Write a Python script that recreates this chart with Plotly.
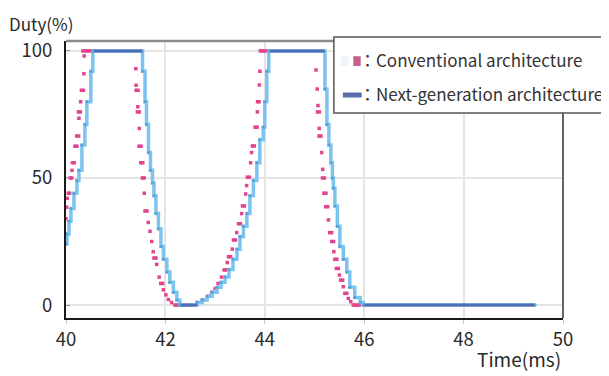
import plotly.graph_objects as go

# ---------------- data ----------------
x_ticks = [40, 42, 44, 46, 48, 50]
y_ticks = [0, 50, 100]

# Next-generation architecture (step line: time of change, new duty value)
blue_t = [40.00, 40.02, 40.06, 40.10, 40.16, 40.22, 40.26, 40.32, 40.38, 40.42, 40.50, 40.54,
          41.54, 41.59, 41.62, 41.66, 41.70, 41.74, 41.77, 41.81, 41.86, 41.91, 41.96, 42.03,
          42.09, 42.16, 42.23, 42.29,
          42.64, 42.74, 42.84, 42.94, 43.04, 43.12, 43.20, 43.28, 43.36, 43.44, 43.50, 43.57,
          43.64, 43.70, 43.77, 43.84, 43.90, 43.97, 44.00, 44.04, 44.08,
          45.21, 45.25, 45.29, 45.33, 45.36, 45.38, 45.41, 45.46, 45.51, 45.58, 45.65, 45.71,
          45.81, 45.92, 45.98, 49.44]
blue_v = [24, 28, 33, 38, 44, 49, 53, 63, 71, 80, 92, 100,
          92, 80, 71, 60, 53, 48, 43, 36, 30, 23, 18, 13,
          9, 5, 2, 0,
          1, 2, 3.5, 5, 7, 9, 11, 14, 18, 22, 27, 31,
          36, 43, 49, 56, 65, 70, 80, 92, 100,
          85, 71, 63, 56, 50, 46, 39, 31, 23, 18, 13, 7,
          3, 1, 0, 0]

# Conventional architecture (sampled points)
pink_t = [40.00, 40.015, 40.025, 40.045, 40.075, 40.085, 40.115, 40.12, 40.13, 40.165,
          40.18, 40.22, 40.215, 40.255, 40.26, 40.25, 40.29, 40.295, 40.31, 40.35,
          40.36, 40.365, 40.34, 40.38, 40.42, 40.46, 40.50,
          41.405, 41.41, 41.41, 41.45, 41.445, 41.435, 41.475, 41.475, 41.47, 41.51,
          41.505, 41.545, 41.535, 41.575, 41.575, 41.59, 41.63, 41.655, 41.69, 41.725,
          41.755, 41.77, 41.81, 41.825, 41.875, 41.905, 41.945, 41.96, 42.01, 42.06,
          42.125, 42.19, 42.23, 42.27, 42.32, 42.40, 42.48,
          42.64, 42.74, 42.78, 42.86, 42.93, 43.00, 43.06, 43.13, 43.18, 43.22,
          43.245, 43.27, 43.31, 43.345, 43.37, 43.41, 43.435, 43.47, 43.51, 43.535,
          43.55, 43.59, 43.615, 43.635, 43.65, 43.69, 43.715, 43.735, 43.75, 43.79,
          43.805, 43.845, 43.85, 43.855, 43.885, 43.89, 43.90, 43.91, 43.95, 43.99, 44.03,
          45.03, 45.055, 45.07, 45.06, 45.10, 45.095, 45.09, 45.13, 45.145, 45.165,
          45.16, 45.20, 45.19, 45.23, 45.225, 45.265, 45.28, 45.305, 45.345, 45.345,
          45.385, 45.39, 45.41, 45.45, 45.44, 45.48, 45.50, 45.525, 45.565, 45.58,
          45.61, 45.65, 45.68, 45.73, 45.78, 45.82, 45.86, 45.90]
pink_v = [34, 38.5, 42, 44, 44, 50, 50, 53, 56, 56,
          62.5, 62.5, 66.5, 66.5, 73.5, 76, 76, 80, 84.5, 84.5,
          91, 98, 100, 100, 100, 100, 100,
          93, 86.5, 84.5, 84.5, 78, 76, 76, 69.5, 62.5, 62.5,
          56, 56, 50, 50, 44, 37, 37, 32.5, 29, 25,
          21, 18.5, 18.5, 16, 11, 8.5, 8.5, 6, 4, 2.2,
          1, 0, 0, 0, 0, 0, 0,
          1, 2, 2, 3.5, 5, 6.5, 8.5, 11, 13.8, 13.8,
          16.7, 19, 19, 22, 25.6, 25.6, 28.5, 32, 32, 36,
          39, 39, 43.7, 47, 50.3, 50.3, 56, 60, 62.6, 62.6,
          70, 70, 76, 80, 80, 86.6, 92, 100, 100, 100, 100,
          92.5, 85, 78.5, 76, 76, 69.5, 66.5, 66.5, 60, 53.4,
          50, 50, 44, 44, 38.7, 38.7, 33.5, 28.5, 28.5, 25,
          25, 21, 18, 18, 14.4, 14.4, 11.8, 9.8, 9.8, 7.2,
          4.6, 4.6, 2.6, 1.3, 0, 0, 0, 0]

legend_names = ["Conventional architecture", "Next-generation architecture"]

# ---------------- styles ----------------
PINK = "#e2458f"
LIGHT_BLUE = "#7cc4ee"
DARK_BLUE = "#4f6db5"
FONT = "Noto Sans CJK JP"
TXT = "#2a2a2a"

fig = go.Figure()

fig.add_trace(go.Scatter(
    x=pink_t, y=pink_v, mode="markers",
    marker=dict(symbol="square", size=3.5, color=PINK, line=dict(width=0)),
    hoverinfo="skip", showlegend=False))

fig.add_trace(go.Scatter(
    x=blue_t, y=blue_v, mode="lines",
    line=dict(shape="hv", color=LIGHT_BLUE, width=3.5),
    hoverinfo="skip", showlegend=False))

# flat (saturated) portions drawn darker
flat_x, flat_y = [], []
for i in range(len(blue_t) - 1):
    if blue_v[i] in (0, 100) and blue_t[i + 1] - blue_t[i] > 0.2:
        flat_x += [blue_t[i], blue_t[i + 1], None]
        flat_y += [blue_v[i], blue_v[i], None]
fig.add_trace(go.Scatter(
    x=flat_x, y=flat_y, mode="lines",
    line=dict(color=DARK_BLUE, width=3),
    hoverinfo="skip", showlegend=False))

fig.add_trace(go.Scatter(
    x=blue_t, y=blue_v, mode="markers",
    marker=dict(size=3, color="#5a9fd8", line=dict(width=0)),
    hoverinfo="skip", showlegend=False))

axis_common = dict(
    showgrid=True, gridcolor="#e4e4e4", gridwidth=1.5,
    zeroline=False, showline=True, linecolor="#1a1a1a", linewidth=2,
    tickfont=dict(family=FONT, size=18.5, color=TXT),
)

fig.update_xaxes(range=[40, 50], tickvals=x_ticks, ticktext=[str(v) for v in x_ticks],
                 ticks="outside", ticklen=4, tickcolor="#c8c8c8", **axis_common)
fig.update_yaxes(range=[-5.1, 103.9], tickvals=y_ticks, ticktext=[str(v) for v in y_ticks],
                 ticks="inside", ticklen=4, tickcolor="#999999", ticklabelstandoff=8,
                 **axis_common)

shapes = [
    # top and right frame lines
    dict(type="line", xref="paper", yref="paper", x0=0, x1=1, y0=1, y1=1,
         line=dict(color="#8c8c8c", width=2.5)),
    dict(type="line", xref="paper", yref="paper", x0=1, x1=1, y0=0, y1=1,
         line=dict(color="#333333", width=1.5)),
    # legend box
    dict(type="rect", xref="paper", yref="paper", x0=0.539, x1=1.12, y0=0.740, y1=1.0144,
         fillcolor="white", line=dict(color="#555555", width=1.5), layer="above"),
    # legend symbols
    dict(type="rect", xref="paper", yref="paper", x0=0.553, x1=0.569, y0=0.910, y1=0.945,
         fillcolor="#edf5fa", line=dict(width=0), layer="above"),
    dict(type="rect", xref="paper", yref="paper", x0=0.578, x1=0.593, y0=0.910, y1=0.945,
         fillcolor="#c4608a", line=dict(width=0), layer="above"),
    dict(type="line", xref="paper", yref="paper", x0=0.557, x1=0.595, y0=0.805, y1=0.805,
         line=dict(color="#5a6fae", width=5), layer="above"),
]

annotations = [
    dict(text="Duty(%)", xref="paper", yref="paper", x=-0.118, y=1.1155,
         xanchor="left", yanchor="top", showarrow=False,
         font=dict(family=FONT, size=17, color=TXT)),
    dict(text="Time(ms)", xref="paper", yref="paper", x=1.0, y=-0.148,
         xanchor="right", yanchor="middle", showarrow=False,
         font=dict(family=FONT, size=19, color=TXT)),
    dict(text="：" + legend_names[0], xref="paper", yref="paper", x=0.585, y=0.935,
         xanchor="left", yanchor="middle", showarrow=False,
         font=dict(family=FONT, size=17, color="#333333")),
    dict(text="：" + legend_names[1], xref="paper", yref="paper", x=0.585, y=0.81,
         xanchor="left", yanchor="middle", showarrow=False,
         font=dict(family=FONT, size=17, color="#333333")),
]

# the page body adds an 8px margin, so the figure is laid out 8px smaller
fig.update_layout(
    width=601, height=368,
    margin=dict(l=58, r=46, t=33, b=58),
    paper_bgcolor="white", plot_bgcolor="white",
    showlegend=False,
    shapes=shapes, annotations=annotations,
)

fig.write_html("out.html")
